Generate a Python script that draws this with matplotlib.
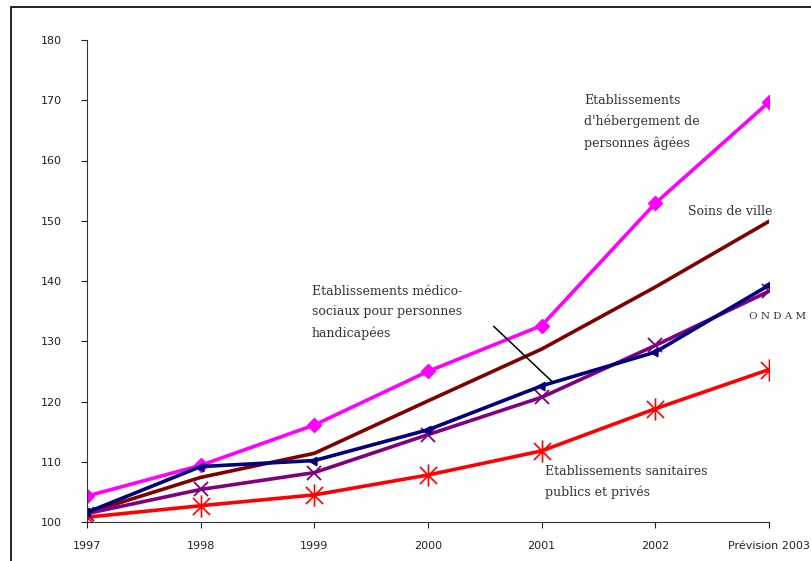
import matplotlib.pyplot as plt
from matplotlib.patches import Rectangle
from matplotlib.path import Path

# categories and series (index, base 100 in 1997)
years = ['1997', '1998', '1999', '2000', '2001', '2002', 'Prévision 2003']
ehpa = [104.3, 109.4, 116.1, 125.0, 132.6, 152.9, 169.7]       # personnes agees
soins_ville = [101.5, 107.4, 111.4, 120.1, 128.7, 139.0, 149.9]
medico_soc = [101.6, 109.2, 110.2, 115.3, 122.6, 128.2, 139.3]  # handicapees
ondam = [101.4, 105.4, 108.2, 114.5, 120.7, 129.3, 138.3]
sanitaires = [100.8, 102.7, 104.5, 107.8, 111.8, 118.8, 125.3]

# excel-like asterisk: an X with a vertical bar
star = Path([(-1, -1), (1, 1), (-1, 1), (1, -1), (0, -1.3), (0, 1.3)],
            [Path.MOVETO, Path.LINETO] * 3)

fig = plt.figure(figsize=(8.12, 5.61), dpi=100)
ax = fig.add_axes([87/812, 1 - 522/561, (769 - 87)/812, (522 - 40)/561])

# outer chart frame
fig.patches.append(Rectangle((11/812, -0.05), 1.1, 1 - 7/561 + 0.05,
                             transform=fig.transFigure, fill=False,
                             edgecolor='black', linewidth=1.2))

x = range(len(years))
lw = 2.6
ax.plot(x, soins_ville, color='#800000', lw=lw)
ax.plot(x, ehpa, color='#ff00ff', lw=lw, marker='D', ms=7)
ax.plot(x, sanitaires, color='#ff0000', lw=lw, marker=star, ms=16, mew=1.2)
ax.plot(x, ondam, color='#800080', lw=lw, marker='x', ms=10, mew=1.3)
ax.plot(x, medico_soc, color='#000080', lw=lw, marker=(3, 0, 90), ms=7)

ax.set_xlim(0, 6)
ax.set_ylim(100, 180)
ax.set_yticks(range(100, 181, 10))
ax.set_xticks(list(x))
ax.set_xticklabels(years)
ax.tick_params(axis='both', labelsize=8, length=4, colors='#222222')
ax.tick_params(axis='y', pad=14)
ax.tick_params(axis='x', pad=10)
for s in ['top', 'right']:
    ax.spines[s].set_visible(False)
ax.spines['left'].set_color('#333333')
ax.spines['bottom'].set_color('#333333')

fnt = dict(family='DejaVu Serif', fontsize=9, color='#333333', linespacing=1.75,
           transform=fig.transFigure, va='top', ha='left', clip_on=False)
fig.text(584/812, 1 - 94/561, "Etablissements\nd'hébergement de\npersonnes âgées", **fnt)
fig.text(688/812, 1 - 205/561, "Soins de ville", **fnt)
fig.text(312/812, 1 - 285/561, "Etablissements médico-\nsociaux pour personnes\nhandicapées", **fnt)
fig.text(749/812, 1 - 312/561, "O N D A M", **dict(fnt, fontsize=7.5))
fig.text(545/812, 1 - 465/561, "Etablissements sanitaires\npublics et privés", **fnt)

# pointer line for the medico-social label
ax.annotate('', xy=(4.12, 122.8), xytext=(3.56, 132.8),
            arrowprops=dict(arrowstyle='-', color='black', lw=1.1))

fig.savefig('out.png', dpi=100)
